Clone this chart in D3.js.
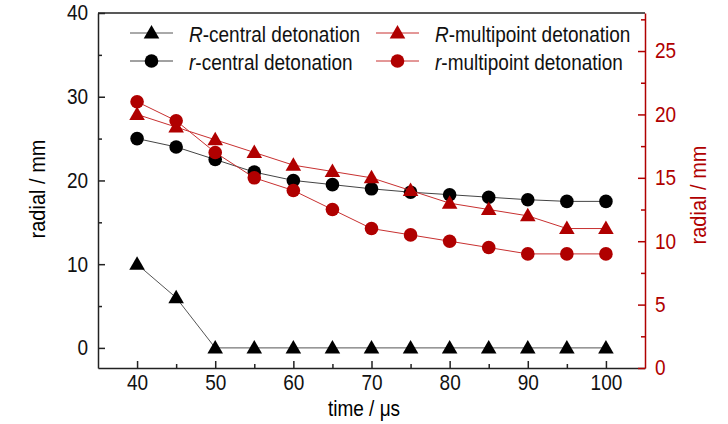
<!DOCTYPE html>
<html>
<head>
<meta charset="utf-8">
<script src="https://cdn.jsdelivr.net/npm/d3@7"></script>
<style>
  body { margin: 0; background: #fff; }
  text { font-family: "Liberation Sans", Arial, sans-serif; }
</style>
</head>
<body>
<svg id="chart" width="728" height="424"></svg>
<script>
// data
const times = [40, 45, 50, 55, 60, 65, 70, 75, 80, 85, 90, 95, 100];
const RCentral = [10, 6, 0, 0, 0, 0, 0, 0, 0, 0, 0, 0, 0];
const rCentral = [25, 24, 22.5, 21, 20, 19.5, 19, 18.6, 18.3, 18, 17.7, 17.5, 17.5];
const RMulti = [20, 19, 18, 17, 16, 15.5, 15, 14, 13, 12.5, 12, 11, 11];
const rMulti = [21, 19.5, 17, 15, 14, 12.5, 11, 10.5, 10, 9.5, 9, 9, 9];

const xTicks = [40, 50, 60, 70, 80, 90, 100];
const leftTicks = [0, 10, 20, 30, 40];
const rightTicks = [0, 5, 10, 15, 20, 25];

const svg = d3.select("#chart");
const red = "#b00000";
const plotL = 98, plotR = 645, plotT = 13, plotB = 368;
const tall = "scale(1,1.13)"; // the reference glyphs are a bit stretched vertically

const x = d3.scaleLinear().domain([35, 105]).range([plotL, plotR]);
const yL = d3.scaleLinear().domain([-2.4, 40]).range([plotB, plotT]);
const yR = d3.scaleLinear().domain([0, 28]).range([plotB, plotT]);

// top frame line
svg.append("line")
    .attr("x1", plotL).attr("x2", plotR)
    .attr("y1", plotT).attr("y2", plotT)
    .attr("stroke", "#222").attr("stroke-width", 1.5);

// axes, ticks pointing inward
const xAxis = svg.append("g")
    .attr("transform", `translate(0,${plotB})`)
    .call(d3.axisBottom(x).tickValues(xTicks).tickSize(-7).tickSizeOuter(0).tickPadding(6));
const xMinor = svg.append("g")
    .attr("transform", `translate(0,${plotB})`)
    .call(d3.axisBottom(x).tickValues(d3.range(45, 100, 10)).tickSize(-4).tickSizeOuter(0).tickFormat(""));
xMinor.select(".domain").remove();

const yAxisL = svg.append("g")
    .attr("transform", `translate(${plotL},0)`)
    .call(d3.axisLeft(yL).tickValues(leftTicks).tickSize(-7).tickSizeOuter(0).tickPadding(10));
const yMinorL = svg.append("g")
    .attr("transform", `translate(${plotL},0)`)
    .call(d3.axisLeft(yL).tickValues([5, 15, 25, 35]).tickSize(-4).tickSizeOuter(0).tickFormat(""));
yMinorL.select(".domain").remove();

const yAxisR = svg.append("g")
    .attr("transform", `translate(${plotR},0)`)
    .call(d3.axisRight(yR).tickValues(rightTicks).tickSize(-7).tickSizeOuter(0).tickPadding(10));
const yMinorR = svg.append("g")
    .attr("transform", `translate(${plotR},0)`)
    .call(d3.axisRight(yR).tickValues([2.5, 7.5, 12.5, 17.5, 22.5, 27.5]).tickSize(-4).tickSizeOuter(0).tickFormat(""));
yMinorR.select(".domain").remove();

[xAxis, xMinor, yAxisL, yMinorL].forEach((g) => {
    g.selectAll("path, line").attr("stroke", "#222").attr("stroke-width", 1.5);
    g.selectAll("text").attr("fill", "#111");
});
[yAxisR, yMinorR].forEach((g) => {
    g.selectAll("path, line").attr("stroke", red).attr("stroke-width", 1.5);
    g.selectAll("text").attr("fill", red);
});
[xAxis, yAxisL, yAxisR].forEach((g) => {
    g.selectAll("text").style("font-size", "19px").attr("transform", tall);
});

// axis titles
svg.append("text")
    .attr("transform", `translate(364,416) ${tall}`)
    .attr("text-anchor", "middle")
    .style("font-size", "19px")
    .text("time / μs");
svg.append("text")
    .attr("transform", `translate(45,189) rotate(-90) ${tall}`)
    .attr("text-anchor", "middle")
    .style("font-size", "20px")
    .text("radial / mm");
svg.append("text")
    .attr("transform", `translate(706,195) rotate(-90) ${tall}`)
    .attr("text-anchor", "middle")
    .attr("fill", red)
    .style("font-size", "20px")
    .text("radial / mm");

const series = [
    { values: RCentral, y: yL, color: "#000", line: "#555", shape: d3.symbolTriangle },
    { values: rCentral, y: yL, color: "#000", line: "#444", shape: d3.symbolCircle },
    { values: RMulti, y: yR, color: red, line: "#c83030", shape: d3.symbolTriangle },
    { values: rMulti, y: yR, color: red, line: "#c83030", shape: d3.symbolCircle }
];

const symSize = (shape) => (shape === d3.symbolCircle ? 145 : 105);
const symShift = (shape) => (shape === d3.symbolTriangle ? 1 : 0);

series.forEach((s) => {
    const pts = times.map((t, i) => [x(t), s.y(s.values[i])]);
    svg.append("path")
        .attr("d", d3.line()(pts))
        .attr("fill", "none")
        .attr("stroke", s.line)
        .attr("stroke-width", 1);
    svg.append("g")
        .selectAll("path")
        .data(pts)
        .enter()
        .append("path")
        .attr("transform", (d) => `translate(${d[0]},${d[1] + symShift(s.shape)})`)
        .attr("d", d3.symbol().type(s.shape).size(symSize(s.shape)))
        .attr("fill", s.color);
});

// legend
const legend = [
    { pre: "R", label: "-central detonation", s: series[0], lx: 130, ty: 33 },
    { pre: "r", label: "-central detonation", s: series[1], lx: 130, ty: 61 },
    { pre: "R", label: "-multipoint detonation", s: series[2], lx: 376, ty: 33 },
    { pre: "r", label: "-multipoint detonation", s: series[3], lx: 376, ty: 61 }
];

legend.forEach((d) => {
    const g = svg.append("g");
    g.append("line")
        .attr("x1", d.lx).attr("x2", d.lx + 43)
        .attr("y1", d.ty).attr("y2", d.ty)
        .attr("stroke", d.s.line).attr("stroke-width", 1);
    g.append("path")
        .attr("transform", `translate(${d.lx + 21.5},${d.ty + symShift(d.s.shape)})`)
        .attr("d", d3.symbol().type(d.s.shape).size(symSize(d.s.shape)))
        .attr("fill", d.s.color);
    const t = g.append("text")
        .attr("transform", `translate(${d.lx + 59},${d.ty + 9}) ${tall}`)
        .style("font-size", "19px")
        .attr("fill", "#111");
    t.append("tspan").style("font-style", "italic").text(d.pre);
    t.append("tspan").text(d.label);
});
</script>
</body>
</html>
